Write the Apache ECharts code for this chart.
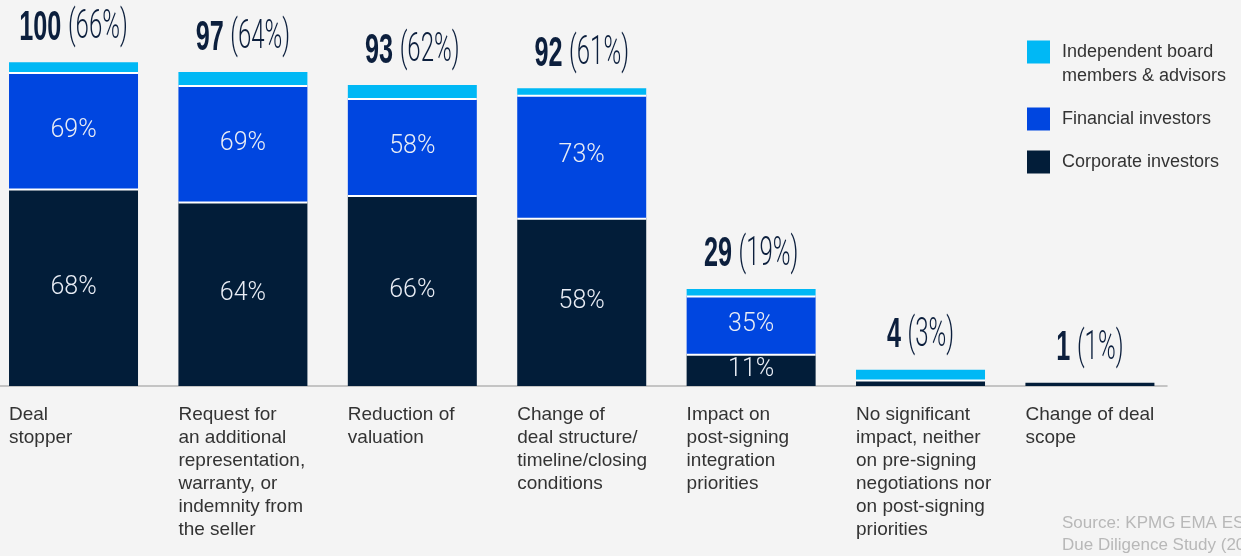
<!DOCTYPE html>
<html>
<head>
<meta charset="utf-8">
<script src="https://cdn.jsdelivr.net/npm/echarts@6/dist/echarts.min.js"></script>
<style>
html,body{margin:0;padding:0;background:#f4f4f4;}
#chart{width:1241px;height:556px;}
</style>
</head>
<body>
<div id="chart"></div>
<script>
const categories = [
  'Deal\nstopper',
  'Request for\nan additional\nrepresentation,\nwarranty, or\nindemnity from\nthe seller',
  'Reduction of\nvaluation',
  'Change of\ndeal structure/\ntimeline/closing\nconditions',
  'Impact on\npost-signing\nintegration\npriorities',
  'No significant\nimpact, neither\non pre-signing\nnegotiations nor\non post-signing\npriorities',
  'Change of deal\nscope'
];
const seriesNames = ['Independent board members & advisors', 'Financial investors', 'Corporate investors'];
const corporate = [61, 57, 59, 52, 10, 2, 1];
const financial = [36, 36, 30, 38, 18, 0, 0];
const independent = [3, 4, 4, 2, 2, 3, 0];
const corporatePct = ['68%', '64%', '66%', '58%', '11%', '', ''];
const financialPct = ['69%', '69%', '58%', '73%', '35%', '', ''];
const totals = [100, 97, 93, 92, 29, 4, 1];
const totalPct = ['66%', '64%', '62%', '61%', '19%', '3%', '1%'];

const colors = { indep: '#00B8F5', fin: '#0046E0', corp: '#021D39' };
const sans = "'Liberation Sans', Arial, sans-serif";
const light = "Roboto, 'Liberation Sans', sans-serif";

const idx = categories.map((_, i) => i);
// value first, category index second (value dimension is the stacked one)
const toPairs = arr => arr.map((v, i) => [v, i]);
const stackTops = idx.map(i => [i, corporate[i] + financial[i] + independent[i]]);

const chart = echarts.init(document.getElementById('chart'), null, { renderer: 'canvas' });

const segLabel = (arr) => ({
  show: true,
  position: 'inside',
  color: '#e9edf5',
  fontFamily: light,
  fontWeight: 300,
  fontSize: 25,
  formatter: p => arr[p.dataIndex]
});

// white separator under each upper segment (drawn as a hard 2px shadow)
const sepStyle = { shadowColor: '#ffffff', shadowBlur: 0, shadowOffsetX: 0, shadowOffsetY: 2 };

const legendBase = {
  orient: 'vertical',
  left: 1027,
  padding: 0,
  itemWidth: 23,
  itemHeight: 23,
  icon: 'rect',
  selectedMode: false,
  textStyle: { fontFamily: sans, fontSize: 18, color: '#333', lineHeight: 24, padding: [0, 0, 0, 7] }
};

const barBase = { type: 'bar', stack: 'all', barWidth: 129, encode: { x: 1, y: 0 } };

chart.setOption({
  backgroundColor: '#f4f4f4',
  animation: false,
  grid: { left: 0, right: 74, top: 30, bottom: 170, containLabel: false },
  legend: [
    Object.assign({}, legendBase, { top: 16, data: [seriesNames[0]], formatter: () => '\nIndependent board\nmembers & advisors' }),
    Object.assign({}, legendBase, { top: 107, data: [seriesNames[1]] }),
    Object.assign({}, legendBase, { top: 150, data: [seriesNames[2]] })
  ],
  title: {
    text: 'Source: KPMG EMA ESG\nDue Diligence Study (2022)',
    left: 1062,
    top: 512,
    padding: 0,
    textStyle: { fontFamily: sans, fontSize: 17, fontWeight: 'normal', color: '#b8b8b8', lineHeight: 22 }
  },
  xAxis: {
    type: 'value',
    min: -0.434,
    max: 6.455,
    splitLine: { show: false },
    axisTick: { show: false },
    axisLine: { show: true, lineStyle: { color: '#b4b4b4', width: 1.5 } },
    axisLabel: {
      customValues: idx,
      margin: 17,
      formatter: v => categories[Math.round(v)].split('\n').map(s => '{a|' + s + '}').join('\n'),
      rich: { a: { width: 129, align: 'left', fontFamily: sans, fontSize: 19, lineHeight: 23, color: '#333' } }
    }
  },
  yAxis: { type: 'value', min: 0, max: 110, show: false, splitLine: { show: false } },
  series: [
    Object.assign({}, barBase, {
      name: seriesNames[2], data: toPairs(corporate),
      itemStyle: { color: colors.corp },
      label: segLabel(corporatePct)
    }),
    Object.assign({}, barBase, {
      name: seriesNames[1], data: toPairs(financial),
      itemStyle: Object.assign({ color: colors.fin }, sepStyle),
      label: segLabel(financialPct)
    }),
    Object.assign({}, barBase, {
      name: seriesNames[0], data: toPairs(independent),
      itemStyle: Object.assign({ color: colors.indep }, sepStyle)
    }),
    {
      name: 'Total', type: 'custom', silent: true, data: stackTops,
      renderItem: (params, api) => {
        const i = params.dataIndex;
        const pt = api.coord([api.value(0), api.value(1)]);
        return {
          type: 'text',
          x: pt[0],
          y: pt[1] - 34,
          scaleX: 0.6,
          style: {
            text: '{b|' + totals[i] + '}{l|(' + totalPct[i] + ')}',
            align: 'center',
            verticalAlign: 'middle',
            rich: {
              b: { fontFamily: sans, fontWeight: 'bold', fontSize: 42, fill: '#0c1f3d', color: '#0c1f3d' },
              l: { fontFamily: light, fontWeight: 300, fontSize: 40, fill: '#0c1f3d', color: '#0c1f3d', padding: [0, 0, 0, 11] }
            }
          }
        };
      }
    }
  ]
});
</script>
</body>
</html>
